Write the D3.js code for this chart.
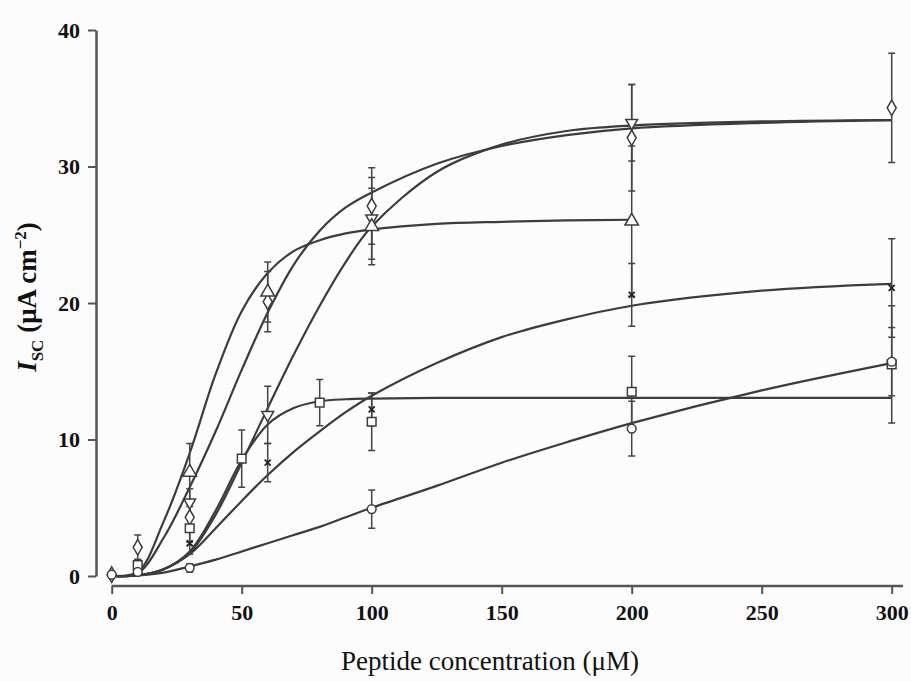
<!DOCTYPE html>
<html><head><meta charset="utf-8">
<script src="https://cdn.jsdelivr.net/npm/d3@7"></script>
<style>body{margin:0;background:#fcfcfc}svg{display:block}</style>
</head><body><svg id="chart" width="911" height="681"></svg>
<script>
// ---- data ----
const xTicks = [0, 50, 100, 150, 200, 250, 300];
const yTicks = [0, 10, 20, 30, 40];
const xTitle = "Peptide concentration (\u03bcM)";

const curveX = [0, 10, 20, 30, 40, 50, 60, 70, 80, 90, 100, 125, 150, 175, 200, 250, 300];
const curveA = [0, 0.3, 4.0, 9.0, 14.8, 19.4, 22.2, 23.8, 24.6, 25.1, 25.4, 25.8, 25.95, 26.05, 26.1, null, null];
const curveB = [0, 0.2, 2.8, 6.5, 10.6, 15.1, 19.3, 22.8, 25.3, 27.0, 28.1, 30.2, 31.5, 32.3, 32.8, 33.2, 33.4];
const curveC = [0, 0.05, 0.5, 1.7, 4.5, 8.3, 12.3, 16.2, 19.8, 23.0, 25.6, 29.6, 31.6, 32.6, 33.0, 33.3, 33.4];
const curveD = [0, 0.05, 0.5, 1.8, 4.8, 8.5, 11.1, 12.3, 12.8, 12.95, 13.0, 13.05, 13.05, 13.05, 13.05, 13.05, 13.05];
const curveE = [0, 0.05, 0.5, 1.6, 3.5, 5.5, 7.4, 9.1, 10.6, 12.0, 13.2, 15.6, 17.5, 18.8, 19.8, 20.9, 21.4];
const curveF = [0, 0.05, 0.25, 0.7, 1.2, 1.8, 2.4, 3.0, 3.6, 4.3, 5.0, 6.6, 8.3, 9.8, 11.2, 13.6, 15.6];

// measured points (x, mean, error)
const diamondX = [0, 10, 30, 60, 100, 200, 300];
const diamondY = [0.1, 2.1, 4.3, 20.1, 27.1, 32.1, 34.3];
const diamondE = [0, 0.9, 0.8, 2.2, 2.8, 3.9, 4.0];

const downTriX = [30, 60, 100, 200];
const downTriY = [5.4, 11.8, 26.2, 33.2];
const downTriE = [1.0, 2.1, 3.0, 2.8];

const upTriX = [30, 60, 100, 200];
const upTriY = [7.6, 20.8, 25.6, 26.0];
const upTriE = [2.1, 2.2, 2.8, 5.5];

const squareX = [10, 30, 50, 80, 100, 200, 300];
const squareY = [0.8, 3.5, 8.6, 12.7, 11.3, 13.5, 15.5];
const squareE = [0.4, 1.0, 2.1, 1.7, 2.1, 2.6, 4.3];

const crossX = [30, 60, 100, 200, 300];
const crossY = [2.4, 8.3, 12.2, 20.6, 21.1];
const crossE = [0.8, 1.4, 1.2, 2.3, 3.6];

const circleX = [0, 10, 30, 100, 200, 300];
const circleY = [0.1, 0.3, 0.6, 4.9, 10.8, 15.7];
const circleE = [0, 0.2, 0.3, 1.4, 2.0, 2.5];

// ---- drawing ----
const svg = d3.select("#chart");
const ink = "#3c3c3c";
const x = d3.scaleLinear().domain([0, 300]).range([111.7, 891.7]);
const y = d3.scaleLinear().domain([0, 40]).range([576, 30]);
const serif = "'Liberation Serif','Times New Roman',serif";

// axes
const xAxis = svg.append("g").attr("transform", "translate(0,586)")
  .call(d3.axisBottom(x).tickValues(xTicks).tickSize(8).tickPadding(10).tickSizeOuter(0));
xAxis.select(".domain").attr("d", `M${x(0)},0H903`);
const yAxis = svg.append("g").attr("transform", "translate(96,0)")
  .call(d3.axisLeft(y).tickValues(yTicks).tickSize(8).tickPadding(8).tickSizeOuter(0));
[xAxis, yAxis].forEach(g => {
  g.select(".domain").attr("stroke", "#555").attr("stroke-width", 2.5);
  g.selectAll(".tick line").attr("stroke", "#555").attr("stroke-width", 2);
  g.selectAll(".tick text").attr("fill", "#111").style("font-family", serif)
    .style("font-weight", "bold").style("font-size", "22px");
});

svg.append("text").attr("x", 490).attr("y", 670).attr("text-anchor", "middle")
  .style("font-family", serif).style("font-size", "27px").attr("fill", "#111").text(xTitle);

const yt = svg.append("text").attr("transform", "translate(36,297) rotate(-90)")
  .attr("text-anchor", "middle").style("font-family", serif).style("font-weight", "bold")
  .style("font-size", "27px").attr("fill", "#111");
yt.append("tspan").style("font-style", "italic").text("I");
yt.append("tspan").attr("dy", 7).style("font-size", "17px").text("SC");
yt.append("tspan").attr("dy", -7).text(" (\u03bcA cm");
yt.append("tspan").attr("dy", -10).style("font-size", "17px").text("\u22122");
yt.append("tspan").attr("dy", 10).text(")");

// curves
const line = d3.line().defined(d => d[1] !== null)
  .x(d => x(d[0])).y(d => y(d[1])).curve(d3.curveCatmullRom.alpha(0.5));
[curveA, curveB, curveC, curveD, curveE, curveF].forEach(c => {
  svg.append("path").datum(curveX.map((v, i) => [v, c[i]]))
    .attr("d", line).attr("fill", "none").attr("stroke", ink).attr("stroke-width", 2.2);
});

// series
const series = [
  {xs: diamondX, ys: diamondY, es: diamondE, sym: d3.symbolDiamond, size: 70, rot: 0},
  {xs: downTriX, ys: downTriY, es: downTriE, sym: d3.symbolTriangle, size: 60, rot: 180},
  {xs: upTriX, ys: upTriY, es: upTriE, sym: d3.symbolTriangle, size: 80, rot: 0},
  {xs: squareX, ys: squareY, es: squareE, sym: d3.symbolSquare, size: 75, rot: 0},
  {xs: crossX, ys: crossY, es: crossE, sym: null, size: 0, rot: 0},
  {xs: circleX, ys: circleY, es: circleE, sym: d3.symbolCircle, size: 60, rot: 0}
];
const bars = svg.append("g");
const marks = svg.append("g");
series.forEach(s => {
  s.xs.forEach((xv, i) => {
    const cx = x(xv), cy = y(s.ys[i]), e = s.es[i];
    if (e > 0) {
      const t = y(s.ys[i] + e), b = y(s.ys[i] - e);
      bars.append("path").attr("d", `M${cx},${t}V${b}M${cx - 3.5},${t}H${cx + 3.5}M${cx - 3.5},${b}H${cx + 3.5}`)
        .attr("stroke", "#444").attr("stroke-width", 1.5).attr("fill", "none");
    }
    if (s.sym) {
      marks.append("path").attr("d", d3.symbol().type(s.sym).size(s.size)())
        .attr("transform", `translate(${cx},${cy}) rotate(${s.rot})`)
        .attr("fill", "#fff").attr("stroke", ink).attr("stroke-width", 1.5);
    } else {
      marks.append("path").attr("d", `M${cx - 3},${cy - 3}L${cx + 3},${cy + 3}M${cx - 3},${cy + 3}L${cx + 3},${cy - 3}`)
        .attr("stroke", "#222").attr("stroke-width", 1.8);
    }
  });
});
</script></body></html>
